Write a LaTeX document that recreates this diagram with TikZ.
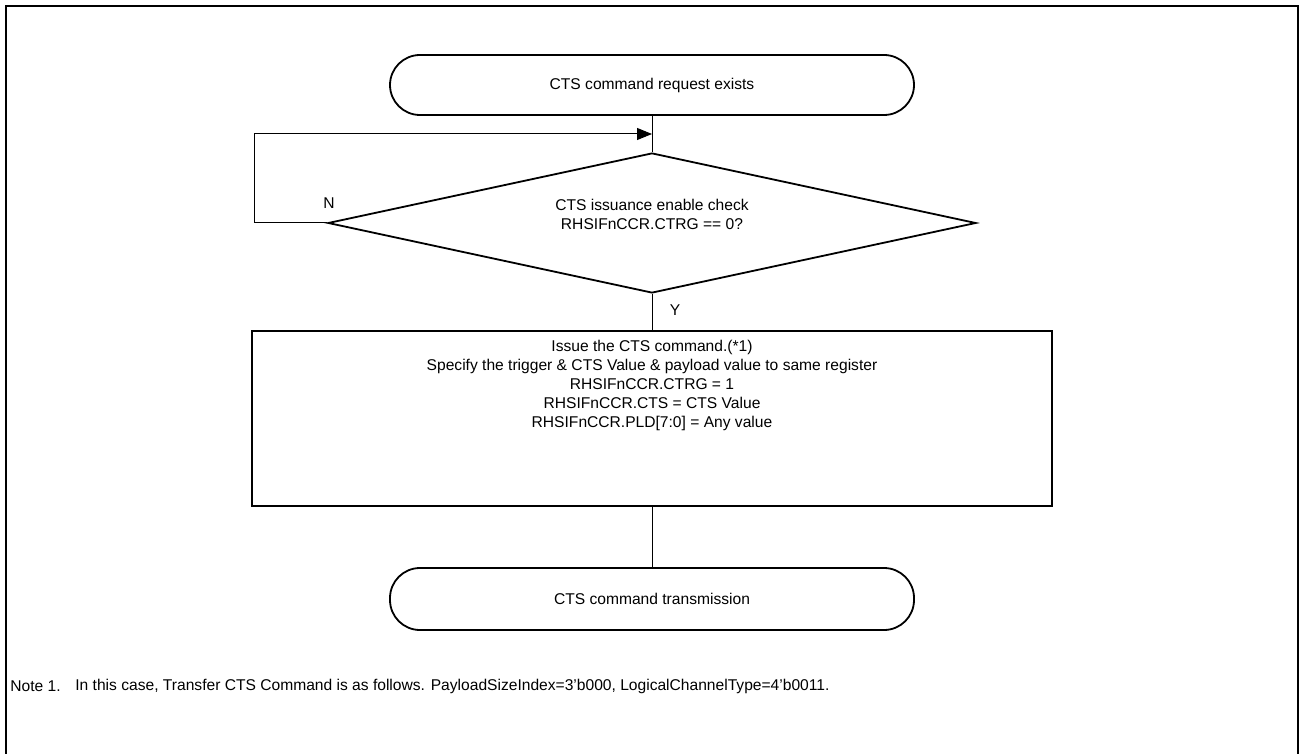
\documentclass[tikz,border=0pt]{standalone}
\usepackage{fontspec}
\setmainfont{Liberation Sans}
\usetikzlibrary{shapes.geometric,arrows.meta}
\begin{document}
\begin{tikzpicture}[x=0.5pt,y=-0.5pt,
  every node/.style={font=\fontsize{7.8}{9.4}\selectfont},
  term/.style={draw, line width=0.9pt, rectangle, rounded corners=15pt, minimum width=262pt, minimum height=30pt, inner sep=0pt},
  dec/.style={draw, line width=0.9pt, diamond, minimum width=324pt, minimum height=70pt, inner sep=0pt},
  proc/.style={draw, line width=0.9pt, rectangle, minimum width=400pt, minimum height=87.5pt, inner sep=0pt},
  txt/.style={align=center, inner sep=0pt},
  conn/.style={line width=0.5pt},
  lbl/.style={inner sep=0pt}
]
\useasboundingbox (0,0) rectangle (1301,754);
\draw[line width=1.3pt] (6,754) -- (6,6) -- (1298,6) -- (1298,754);

\node[term] (start) at (652,85) {CTS command request exists};
\node[dec] (check) at (652,223) {};
\node[txt] (checktext) at (652,214.5) {CTS issuance enable check\\RHSIFnCCR.CTRG == 0?};
\node[proc] (issue) at (652,418.5) {};
\node[txt] (issuetext) at (652,385.5) {Issue the CTS command.(*1)\\Specify the trigger \& CTS Value \& payload value to same register\\RHSIFnCCR.CTRG = 1\\RHSIFnCCR.CTS = CTS Value\\RHSIFnCCR.PLD[7:0] = Any value};
\node[term, minimum height=31pt] (end) at (652,599) {CTS command transmission};

\coordinate (join) at (652,134);
\coordinate (loopa) at (254,223);
\coordinate (loopb) at (254,134);

\draw[conn] (start.south) -- (check.north);
\draw[conn, -{Triangle[length=7.5pt,width=6pt]}] (check.west) -- (loopa) -- (loopb) -- (join);
\draw[conn] (check.south) -- (issue.north);
\draw[conn] (issue.south) -- (end.north);

\node[lbl] (nlab) at (329,203) {N};
\node[lbl] (ylab) at (675,310) {Y};

\node[lbl, anchor=west] (note) at (10,686) {Note 1.};
\node[lbl, anchor=west] (notetext) at (75,686) {In this case, Transfer CTS Command is as follows. PayloadSizeIndex=3'b000, LogicalChannelType=4'b0011.};
\end{tikzpicture}
\end{document}
